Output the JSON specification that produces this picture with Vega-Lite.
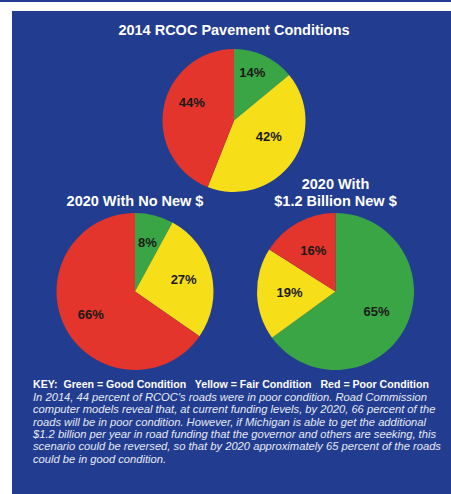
{
  "$schema": "https://vega.github.io/schema/vega-lite/v6.json",
  "background": "#223d8f",
  "padding": 0,
  "spacing": 0,
  "config": {
    "view": {"stroke": null},
    "title": {"color": "#ffffff", "font": "Liberation Sans", "fontSize": 14.5, "fontWeight": "bold", "anchor": "middle"},
    "text": {"font": "Liberation Sans"}
  },
  "datasets": {
    "pies": [
      {"chart": "A", "condition": "Good", "rank": 1, "value": 0.14},
      {"chart": "A", "condition": "Fair", "rank": 2, "value": 0.42},
      {"chart": "A", "condition": "Poor", "rank": 3, "value": 0.44},
      {"chart": "B", "condition": "Good", "rank": 1, "value": 0.08},
      {"chart": "B", "condition": "Fair", "rank": 2, "value": 0.27},
      {"chart": "B", "condition": "Poor", "rank": 3, "value": 0.66},
      {"chart": "C", "condition": "Good", "rank": 1, "value": 0.65},
      {"chart": "C", "condition": "Fair", "rank": 2, "value": 0.19},
      {"chart": "C", "condition": "Poor", "rank": 3, "value": 0.16}
    ],
    "blank": [{"k": 1}]
  },
  "resolve": {"scale": {"theta": "independent"}},
  "hconcat": [
    {
      "width": 12, "height": 494,
      "view": {"fill": "#ffffff", "stroke": null},
      "data": {"name": "blank"},
      "mark": {"type": "text", "text": ""}
    },
    {
      "vconcat": [
        {
          "width": 444, "height": 9,
          "view": {"fill": "#ffffff", "stroke": null},
          "data": {"name": "blank"},
          "mark": {"type": "text", "text": ""}
        },
        {
          "vconcat": [
            {
              "vconcat": [
                {
                  "width": 444, "height": 143,
                  "title": {"text": "2014 RCOC Pavement Conditions", "offset": 11},
                  "data": {"name": "pies"},
                  "transform": [{"filter": "datum.chart == 'A'"}],
                  "encoding": {
                    "theta": {"field": "value", "type": "quantitative", "stack": true},
                    "order": {"field": "rank", "type": "quantitative"}
                  },
                  "layer": [
                    {
                      "mark": {"type": "arc", "radius": 71.5},
                      "encoding": {
                        "color": {"field": "condition", "type": "nominal", "scale": {"domain": ["Good", "Fair", "Poor"], "range": ["#3aa544", "#f6de18", "#e3352b"]}, "legend": null}
                      }
                    },
                    {
                      "mark": {"type": "text", "radius": 43, "dy": -9, "fontSize": 13, "fontWeight": "bold", "fill": "#1a1a1a"},
                      "encoding": {
                        "detail": {"field": "condition", "type": "nominal"},
                        "text": {"field": "value", "type": "quantitative", "format": ".0%"}
                      }
                    }
                  ]
                },
                {
                  "hconcat": [
                    {
                      "width": 246, "height": 157,
                      "title": {"text": "2020 With No New $", "offset": 4},
                      "data": {"name": "pies"},
                      "transform": [{"filter": "datum.chart == 'B'"}],
                      "encoding": {
                        "theta": {"field": "value", "type": "quantitative", "stack": true},
                        "order": {"field": "rank", "type": "quantitative"}
                      },
                      "layer": [
                        {
                          "mark": {"type": "arc", "radius": 78.5},
                          "encoding": {
                            "color": {"field": "condition", "type": "nominal", "scale": {"domain": ["Good", "Fair", "Poor"], "range": ["#3aa544", "#f6de18", "#e3352b"]}, "legend": null}
                          }
                        },
                        {
                          "mark": {"type": "text", "radius": 50, "fontSize": 13, "fontWeight": "bold", "fill": "#1a1a1a"},
                          "encoding": {
                            "detail": {"field": "condition", "type": "nominal"},
                            "text": {"field": "value", "type": "quantitative", "format": ".0%"}
                          }
                        }
                      ]
                    },
                    {
                      "width": 155, "height": 157,
                      "title": {"text": ["2020 With", "$1.2 Billion New $"], "offset": 4, "lineHeight": 16.5},
                      "data": {"name": "pies"},
                      "transform": [{"filter": "datum.chart == 'C'"}],
                      "encoding": {
                        "theta": {"field": "value", "type": "quantitative", "stack": true},
                        "order": {"field": "rank", "type": "quantitative"}
                      },
                      "layer": [
                        {
                          "mark": {"type": "arc", "radius": 78.5},
                          "encoding": {
                            "color": {"field": "condition", "type": "nominal", "scale": {"domain": ["Good", "Fair", "Poor"], "range": ["#3aa544", "#f6de18", "#e3352b"]}, "legend": null}
                          }
                        },
                        {
                          "mark": {"type": "text", "radius": 46, "fontSize": 13, "fontWeight": "bold", "fill": "#1a1a1a"},
                          "encoding": {
                            "detail": {"field": "condition", "type": "nominal"},
                            "text": {"field": "value", "type": "quantitative", "format": ".0%"}
                          }
                        }
                      ]
                    }
                  ],
                  "spacing": 0,
                  "bounds": "flush",
                  "resolve": {"scale": {"theta": "independent", "color": "shared"}}
                }
              ],
              "spacing": -15,
              "resolve": {"scale": {"theta": "independent"}}
            },
            {
              "width": 444, "height": 4,
              "data": {"name": "blank"},
              "mark": {"type": "text", "text": ""},
              "title": {
                "text": "KEY:\u00a0 Green = Good Condition\u00a0\u00a0 Yellow = Fair Condition\u00a0\u00a0 Red = Poor Condition",
                "subtitle": [
                  "In 2014, 44 percent of RCOC's roads were in poor condition. Road Commission",
                  "computer models reveal that, at current funding levels, by 2020, 66 percent of the",
                  "roads will be in poor condition. However, if Michigan is able to get the additional",
                  "$1.2 billion per year in road funding that the governor and others are seeking, this",
                  "scenario could be reversed, so that by 2020 approximately 65 percent of the roads",
                  "could be in good condition."
                ],
                "anchor": "start",
                "dx": 21,
                "fontSize": 10.6,
                "offset": 0,
                "subtitleColor": "#e6e9f3",
                "subtitleFont": "Liberation Sans",
                "subtitleFontSize": 11.2,
                "subtitleFontStyle": "italic",
                "subtitleLineHeight": 12.4,
                "subtitlePadding": 1
              }
            }
          ],
          "spacing": 10,
          "resolve": {"scale": {"theta": "independent"}}
        }
      ],
      "spacing": 10,
      "resolve": {"scale": {"theta": "independent"}}
    }
  ]
}
